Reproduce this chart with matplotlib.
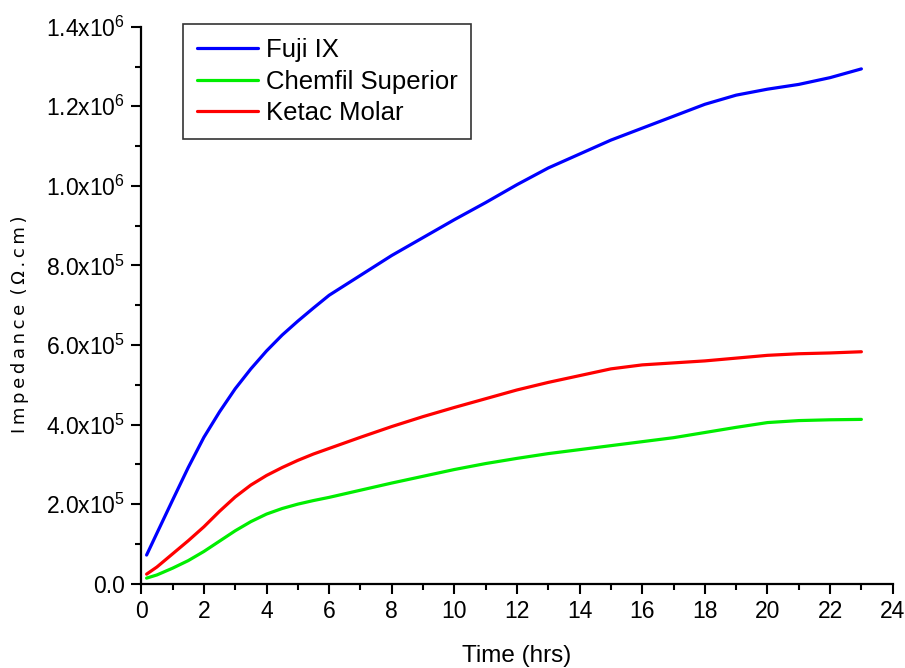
import matplotlib
matplotlib.use("Agg")
import matplotlib.pyplot as plt
from matplotlib.ticker import MultipleLocator, FixedLocator, FuncFormatter

# Impedance measurements over time (hours), values in 10^6 Ω.cm
time_hrs = [0.17, 0.5, 1, 1.5, 2, 2.5, 3, 3.5, 4, 4.5, 5, 5.5, 6, 7, 8, 9,
            10, 11, 12, 13, 14, 15, 16, 17, 18, 19, 20, 21, 22, 23]

fuji_ix = [0.072, 0.127, 0.21, 0.292, 0.368, 0.432, 0.49, 0.54, 0.585, 0.625,
           0.66, 0.693, 0.725, 0.775, 0.825, 0.87, 0.915, 0.958, 1.003,
           1.045, 1.08, 1.115, 1.145, 1.175, 1.205, 1.228, 1.243, 1.255,
           1.272, 1.294]
chemfil_superior = [0.014, 0.022, 0.039, 0.058, 0.081, 0.107, 0.133, 0.156,
                    0.175, 0.189, 0.200, 0.209, 0.217, 0.235, 0.253, 0.270,
                    0.287, 0.302, 0.315, 0.327, 0.337, 0.347, 0.357, 0.367,
                    0.380, 0.393, 0.405, 0.410, 0.412, 0.413]
ketac_molar = [0.024, 0.042, 0.075, 0.108, 0.143, 0.182, 0.218, 0.248, 0.272,
               0.292, 0.310, 0.326, 0.340, 0.368, 0.395, 0.420, 0.443, 0.465,
               0.487, 0.506, 0.523, 0.540, 0.550, 0.555, 0.560, 0.567, 0.574,
               0.578, 0.580, 0.583]

series_names = ["Fuji IX", "Chemfil Superior", "Ketac Molar"]
series_colors = ["#0000FF", "#00EE00", "#FF0000"]

y_tick_labels = [r"0.0", r"2.0x10$^{5}$", r"4.0x10$^{5}$", r"6.0x10$^{5}$",
                 r"8.0x10$^{5}$", r"1.0x10$^{6}$", r"1.2x10$^{6}$", r"1.4x10$^{6}$"]
y_tick_values = [0, 2e5, 4e5, 6e5, 8e5, 1.0e6, 1.2e6, 1.4e6]

plt.rcParams["font.family"] = ["Liberation Sans", "DejaVu Sans"]
plt.rcParams["mathtext.fontset"] = "custom"
plt.rcParams["mathtext.rm"] = "Liberation Sans"
plt.rcParams["mathtext.it"] = "Liberation Sans"
plt.rcParams["mathtext.default"] = "rm"

fig = plt.figure(figsize=(9.05, 6.68), dpi=100)
ax = fig.add_axes([0.1561, 0.1262, 0.8303, 0.8338])

for vals, name, col in zip([fuji_ix, chemfil_superior, ketac_molar],
                           series_names, series_colors):
    ax.plot(time_hrs, [v * 1e6 for v in vals], color=col, lw=2.3,
            label=name, solid_capstyle="round", solid_joinstyle="round")

ax.set_xlim(0, 24)
ax.set_ylim(0, 1.4e6)

for side in ("top", "right"):
    ax.spines[side].set_visible(False)
for side in ("left", "bottom"):
    ax.spines[side].set_linewidth(1.6)

ax.xaxis.set_major_locator(MultipleLocator(2))
ax.xaxis.set_minor_locator(MultipleLocator(1))
ax.yaxis.set_major_locator(FixedLocator(y_tick_values))
ax.yaxis.set_minor_locator(MultipleLocator(1e5))
ax.yaxis.set_major_formatter(FuncFormatter(
    lambda v, p: y_tick_labels[y_tick_values.index(v)] if v in y_tick_values else ""))

ax.tick_params(which="major", direction="out", length=7.5, width=1.5,
               labelsize=16.5)
ax.tick_params(which="minor", direction="out", length=4, width=1.5)
ax.tick_params(axis="x", which="major", pad=4)
ax.tick_params(axis="y", which="major", pad=4)

ax.set_xlabel("Time (hrs)", fontsize=17.5, labelpad=16)

# letter-spaced vertical axis title
thin = "\u2009"
ylabel = thin.join(list("Impedance")) + " " + thin + thin.join(list("(Ω.cm)"))
fig.text(20 / 905, 1 - 324 / 668, ylabel, rotation=90, fontsize=13,
         family=["DejaVu Sans", "Liberation Sans"], ha="center", va="center")

leg = ax.legend(loc="upper left", bbox_to_anchor=(0.0555, 1.005),
                fontsize=18.5, frameon=True, fancybox=False,
                handlelength=2.4, handletextpad=0.3, borderpad=0.53,
                labelspacing=0.31, borderaxespad=0)
leg.get_frame().set_edgecolor("black")
leg.get_frame().set_linewidth(1.2)
for line in leg.get_lines():
    line.set_linewidth(2.3)

fig.savefig("out.png", dpi=100)
